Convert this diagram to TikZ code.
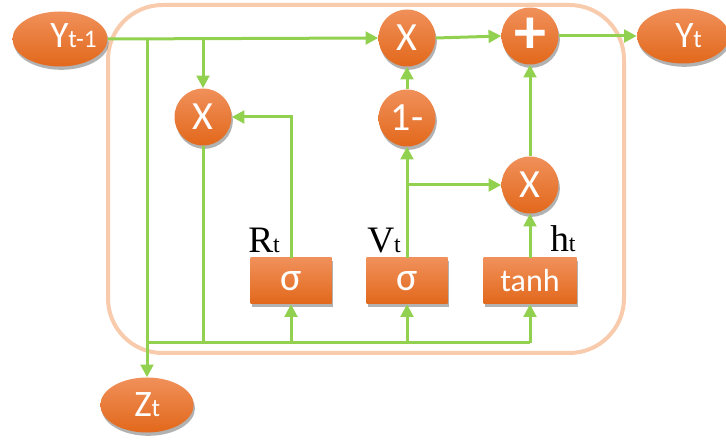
\documentclass[tikz,border=0pt]{standalone}
\usepackage{fontspec}
\setmainfont{Carlito}
\newfontfamily\seriffont{Liberation Serif}
\usetikzlibrary{arrows.meta,shadows,shapes.geometric}
\definecolor{grn}{HTML}{92D050}
\definecolor{orgA}{HTML}{F0905A}
\definecolor{orgB}{HTML}{F27B2B}
\definecolor{orgC}{HTML}{E2681B}
\definecolor{peach}{HTML}{F8CBAD}
\begin{document}
\begin{tikzpicture}[x=0.75pt,y=-0.75pt,
  shp/.style={top color=orgA, middle color=orgB, bottom color=orgC, draw=none, text=white,
    drop shadow={shadow xshift=1pt, shadow yshift=-2.5pt, opacity=0.3, fill=black}},
  opcircle/.style={shp, circle, minimum size=42.75pt, inner sep=0pt, font=\fontsize{30}{31}\selectfont},
  oval/.style={shp, ellipse, minimum width=70pt, minimum height=41.25pt, inner sep=0pt},
  gatebox/.style={shp, rectangle, minimum width=60.75pt, minimum height=34.5pt, inner sep=0pt},
  ovaltext/.style={text=white, anchor=base west, inner sep=0pt, font=\fontsize{28}{30}\selectfont},
  lbl/.style={anchor=base west, inner sep=0pt, font=\seriffont\fontsize{28}{30}\selectfont},
  wire/.style={draw=grn, line width=2.25pt},
  arr/.style={wire, -{Triangle[length=9.5pt,width=9.5pt]}}
]
\useasboundingbox (0,0) rectangle (726,441);
% outer rounded frame
\draw[peach, line width=3pt, rounded corners=41pt] (108,5) rectangle (624,353);

% nodes
\node[oval, minimum width=71.25pt] (ym1) at (60,39) {};
\node[ovaltext] (ym1t) at (50,48) {Y{\fontsize{19}{20}\selectfont t-1}};
\node[oval, minimum width=69pt] (yt) at (683,36) {};
\node[ovaltext] (ytt) at (675,48) {Y{\fontsize{19}{20}\selectfont t}};
\node[oval, minimum width=70pt] (zt) at (147,405) {};
\node[ovaltext] (ztt) at (134,417) {Z{\fontsize{19}{20}\selectfont t}};

\node[opcircle] (xtop) at (407,38) {X};
\node[opcircle, font=\fontsize{48}{48}\bfseries] (plus) at (530,36) {+};
\node[opcircle] (xl) at (203,117) {X};
\node[opcircle] (one) at (407,118) {1-};
\node[opcircle] (xr) at (530,185) {X};

\node[gatebox] (s1) at (291,281) {\fontsize{30}{30}\selectfont σ};
\node[gatebox] (s2) at (407,281) {\fontsize{30}{30}\selectfont σ};
\node[gatebox, minimum width=69.75pt] (th) at (530,281) {\fontsize{24}{24}\selectfont tanh};

\node[lbl] (rl) at (248,253) {R{\fontsize{18}{20}\selectfont t}};
\node[lbl] (vl) at (367,253) {V{\fontsize{18}{20}\selectfont t}};
\node[lbl] (hl) at (550,252) {h{\fontsize{18}{20}\selectfont t}};

% junctions
\coordinate (j1) at (147,38);
\coordinate (j2) at (203,38);
\coordinate (b0) at (147,343);
\coordinate (b1) at (203,343);
\coordinate (b2) at (291,343);
\coordinate (b3) at (407,343);
\coordinate (b4) at (530,343);
\coordinate (j3) at (407,185);

% connectors
\draw[arr] (ym1.east) -- (xtop.west);
\draw[arr] (j1) -- (zt.north);
\draw[arr] (j2) -- (xl.north);
\draw[wire] (xl.south) -- (b1);
\draw[wire] (b0) -- (b4);
\draw[arr] (b2) -- (s1.south);
\draw[arr] (b3) -- (s2.south);
\draw[arr] (b4) -- (th.south);
\draw[arr] (s1.north) |- (xl.east);
\draw[arr] (s2.north) -- (one.south);
\draw[arr] (one.north) -- (xtop.south);
\draw[arr] (j3) -- (xr.west);
\draw[arr] (th.north) -- (xr.south);
\draw[arr] (xr.north) -- (plus.south);
\draw[arr] (xtop.east) -- (plus.west);
\draw[arr] (plus.east) -- (yt.west);
\end{tikzpicture}
\end{document}
